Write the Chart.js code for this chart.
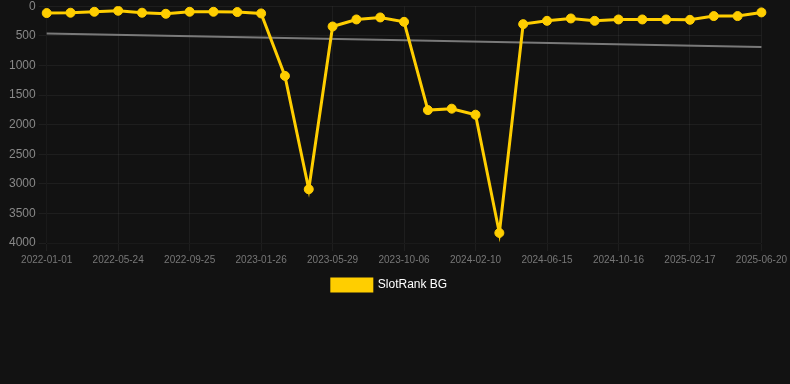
<!DOCTYPE html>
<html>
<head>
<meta charset="utf-8">
<script src="https://cdn.jsdelivr.net/npm/chart.js@4"></script>
<style>
  html, body { margin: 0; padding: 0; background: #121212; overflow: hidden; }
  #wrap { width: 790px; height: 305px; margin-top: -4px; }
</style>
</head>
<body>
<div id="wrap"><canvas id="rankChart"></canvas></div>
<script>
const dates = [
  '2022-01-01', '2022-02-18', '2022-04-06', '2022-05-24', '2022-07-04', '2022-08-14',
  '2022-09-25', '2022-11-05', '2022-12-16', '2023-01-26', '2023-03-08', '2023-04-18',
  '2023-05-29', '2023-07-10', '2023-08-24', '2023-10-06', '2023-11-17', '2023-12-29',
  '2024-02-10', '2024-03-22', '2024-05-04', '2024-06-15', '2024-07-26', '2024-09-05',
  '2024-10-16', '2024-11-26', '2025-01-07', '2025-02-17', '2025-03-30', '2025-05-10',
  '2025-06-20'
];
const ranks = [
  116, 110, 94, 77, 110, 128, 94, 94, 99, 122,
  1177, 3092, 343, 224, 190, 264, 1755, 1731, 1833, 3830,
  303, 247, 207, 247, 224, 224, 224, 230, 167, 167, 105
];
// straight trend line, end points
const trendStart = 463;
const trendEnd = 689;
const yTicks = [0, 500, 1000, 1500, 2000, 2500, 3000, 3500, 4000];

const yellow = 'rgb(255, 206, 0)';

const ctx = document.getElementById('rankChart').getContext('2d');
new Chart(ctx, {
  type: 'line',
  data: {
    labels: dates,
    datasets: [
      {
        label: 'SlotRank BG',
        data: ranks,
        borderColor: yellow,
        backgroundColor: yellow,
        pointBackgroundColor: yellow,
        pointBorderColor: yellow,
        borderWidth: 3,
        pointRadius: 4.5,
        pointBorderWidth: 1,
        tension: 0
      },
      {
        label: 'trend',
        data: [
          { x: dates[0], y: trendStart },
          { x: dates[dates.length - 1], y: trendEnd }
        ],
        borderColor: 'rgba(140, 140, 140, 0.85)',
        borderWidth: 2,
        pointRadius: 0,
        tension: 0
      }
    ]
  },
  options: {
    responsive: true,
    maintainAspectRatio: false,
    animation: false,
    layout: { padding: { left: 6, right: 17, top: 0, bottom: 0 } },
    scales: {
      x: {
        grid: { color: 'rgba(255, 255, 255, 0.05)' },
        ticks: { color: '#777', font: { size: 10 }, maxRotation: 0 }
      },
      y: {
        reverse: true,
        min: yTicks[0],
        max: yTicks[yTicks.length - 1],
        afterBuildTicks: (axis) => { axis.ticks = yTicks.map(v => ({ value: v })); },
        grid: { color: 'rgba(255, 255, 255, 0.05)' },
        ticks: { color: '#888', font: { size: 12 }, callback: (v) => String(v) }
      }
    },
    plugins: {
      legend: {
        position: 'bottom',
        labels: {
          color: '#fff',
          font: { size: 12 },
          filter: (item) => item.text !== 'trend'
        }
      },
      tooltip: { enabled: false }
    }
  }
});
</script>
</body>
</html>
